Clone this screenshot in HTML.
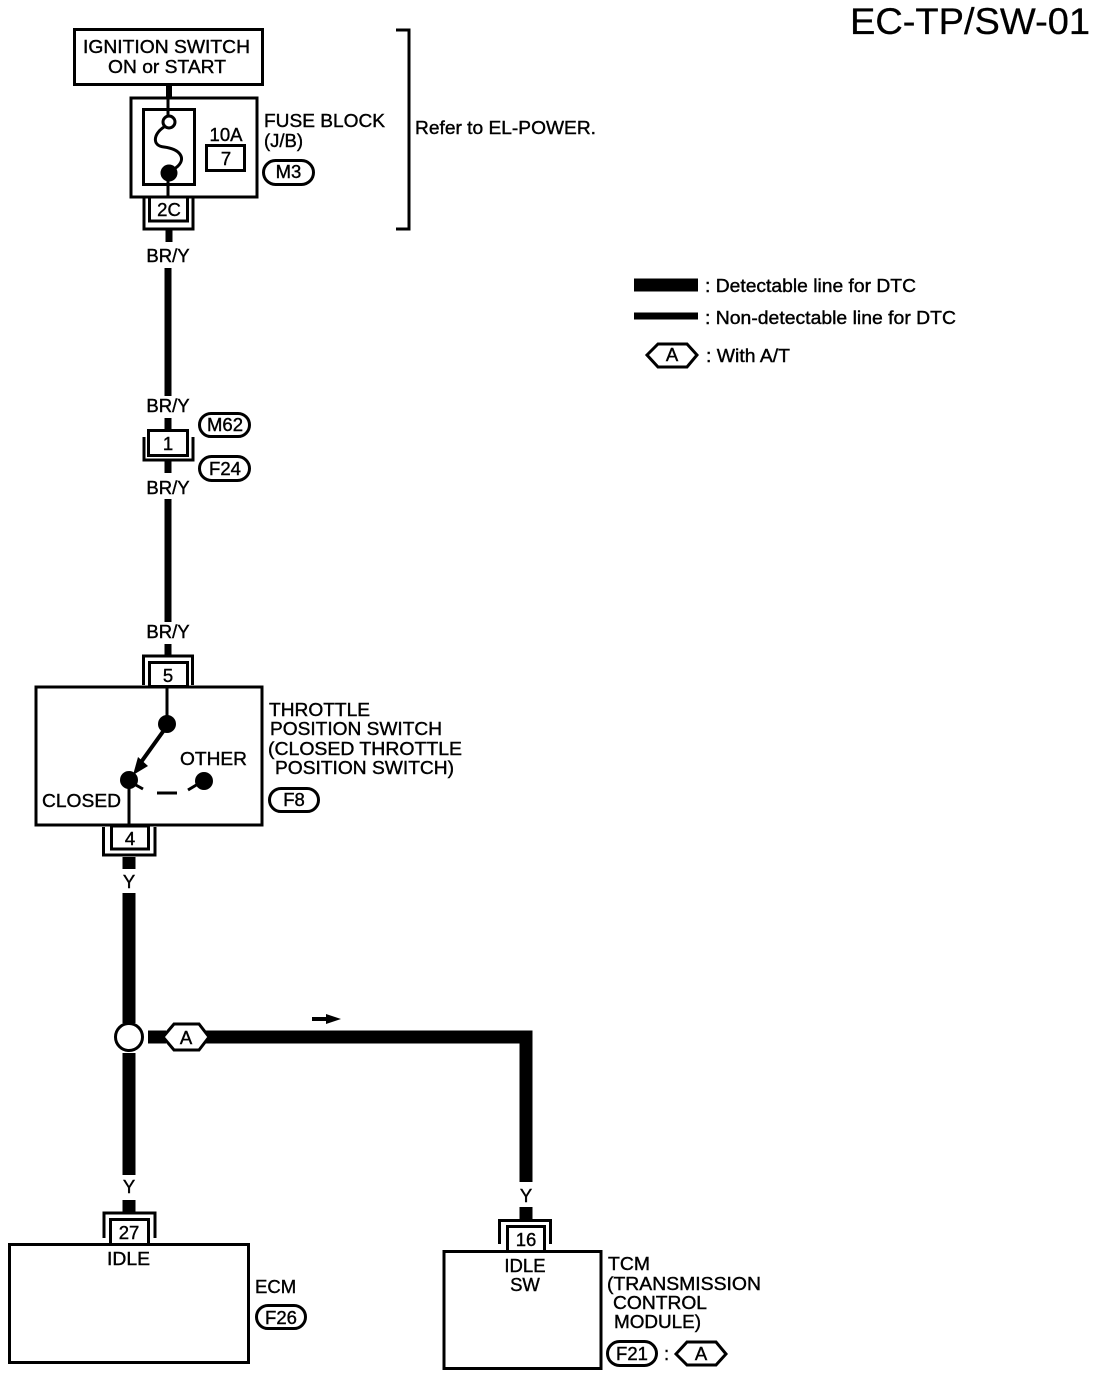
<!DOCTYPE html>
<html><head><meta charset="utf-8"><style>
html,body{margin:0;padding:0;background:#fff;width:1104px;height:1378px;overflow:hidden}
svg{display:block}
text{font-family:"Liberation Sans",sans-serif;font-size:18.5px;fill:#000;stroke:#000;stroke-width:.4}
.c{text-anchor:middle}
.b{fill:#fff;stroke:#000;stroke-width:3}
.n{fill:none;stroke:#000;stroke-width:3}
.w{fill:none;stroke:#000;stroke-width:7}
.t{fill:none;stroke:#000;stroke-width:13}
</style></head><body>
<svg width="1104" height="1378" viewBox="0 0 1104 1378" xmlns="http://www.w3.org/2000/svg">
<rect width="1104" height="1378" fill="#fff"/>
<text x="850" y="34" textLength="240" lengthAdjust="spacingAndGlyphs" style="font-size:37px;stroke-width:.3">EC-TP/SW-01</text>

<!-- top -->
<rect class="b" x="74.500" y="29.500" width="188" height="55"/>
<text x="83" y="53" textLength="167" lengthAdjust="spacingAndGlyphs">IGNITION SWITCH</text>
<text x="108" y="73" textLength="118" lengthAdjust="spacingAndGlyphs">ON or START</text>
<path d="M169 85V98" stroke="#000" stroke-width="6"/>
<rect class="b" x="131" y="98" width="126" height="99"/>
<rect class="b" x="143.500" y="109.500" width="51" height="75"/>
<path class="n" d="M168 97V117"/>
<path class="n" d="M164 127C153 134 152 146 164 147C180 149 186 158 178 166L172 171"/>
<circle cx="169" cy="122" r="6" fill="#fff" stroke="#000" stroke-width="3"/>
<circle cx="169" cy="173" r="8.500"/>
<path class="n" d="M168 178V198"/>
<text class="c" x="226" y="141">10A</text>
<rect class="b" x="206.500" y="145.500" width="38" height="25"/>
<text class="c" x="226" y="165">7</text>
<text x="264" y="127" textLength="121" lengthAdjust="spacingAndGlyphs">FUSE BLOCK</text>
<text x="264" y="147">(J/B)</text>
<rect class="b" x="263.500" y="160.500" width="50" height="24" rx="12"/>
<text class="c" x="288.500" y="178">M3</text>
<path class="n" d="M144 198V229H193V198"/>
<rect class="b" x="149.500" y="197" width="38" height="24"/>
<text class="c" x="169" y="216">2C</text>
<path d="M396 30H409V229H396" class="n"/>
<text x="415" y="134" textLength="181" lengthAdjust="spacingAndGlyphs">Refer to EL-POWER.</text>

<!-- legend -->
<path d="M634 285H698" stroke="#000" stroke-width="13"/>
<path d="M634 316H698" stroke="#000" stroke-width="7"/>
<text x="705" y="292" textLength="211" lengthAdjust="spacingAndGlyphs">: Detectable line for DTC</text>
<text x="705" y="324" textLength="251" lengthAdjust="spacingAndGlyphs">: Non-detectable line for DTC</text>
<path class="b" d="M647 355L658 344H687L697 355L687 367H658Z"/>
<text class="c" x="672" y="361">A</text>
<text x="706" y="362" textLength="84" lengthAdjust="spacingAndGlyphs">: With A/T</text>

<!-- BR/Y wire -->
<path class="w" d="M169 230V242"/>
<text class="c" x="168" y="262">BR/Y</text>
<path class="w" d="M168 268V396"/>
<text class="c" x="168" y="412">BR/Y</text>
<path class="w" d="M168 418V430M168 460V473"/>
<path class="n" d="M144 437V460H193V437"/>
<rect class="b" x="148.500" y="430.500" width="39" height="25"/>
<text class="c" x="168" y="450">1</text>
<rect class="b" x="199.500" y="413.500" width="50" height="23" rx="11.500"/>
<text class="c" x="225" y="431">M62</text>
<rect class="b" x="199.500" y="456.500" width="50" height="24" rx="12"/>
<text class="c" x="225" y="475">F24</text>
<text class="c" x="168" y="494">BR/Y</text>
<path class="w" d="M168 499V622"/>
<text class="c" x="168" y="638">BR/Y</text>
<path class="w" d="M168 644V656"/>

<!-- throttle switch -->
<path class="n" d="M143.500 685V656H192.500V685"/>
<rect class="b" x="149.500" y="662.500" width="38" height="24"/>
<text class="c" x="168" y="682">5</text>
<rect class="b" x="36" y="687" width="226" height="138"/>
<path class="n" d="M167 687V724M129 780V826"/>
<path d="M167 726L139 765" fill="none" stroke="#000" stroke-width="4"/>
<path d="M148 766L133 775L138 757Z"/>
<circle cx="167" cy="724" r="9"/>
<circle cx="129" cy="780" r="9"/>
<circle cx="204" cy="781" r="9"/>
<path class="n" d="M134 784L143 789M157 793H177M188 790L198 784"/>
<text x="180" y="765" textLength="67" lengthAdjust="spacingAndGlyphs">OTHER</text>
<text x="42" y="807" textLength="79" lengthAdjust="spacingAndGlyphs">CLOSED</text>
<text x="269" y="716" textLength="101" lengthAdjust="spacingAndGlyphs">THROTTLE</text>
<text x="270" y="735" textLength="172" lengthAdjust="spacingAndGlyphs">POSITION SWITCH</text>
<text x="268" y="755" textLength="194" lengthAdjust="spacingAndGlyphs">(CLOSED THROTTLE</text>
<text x="275" y="774" textLength="179" lengthAdjust="spacingAndGlyphs">POSITION SWITCH)</text>
<rect class="b" x="269.500" y="788.500" width="49" height="23" rx="11.500"/>
<text class="c" x="294" y="806">F8</text>
<path class="n" d="M103.500 827V855H155V827"/>
<rect class="b" x="111.500" y="826" width="37" height="23"/>
<text class="c" x="130" y="845">4</text>

<!-- Y wires -->
<path class="t" d="M129 857V869"/>
<text class="c" x="129" y="888">Y</text>
<path class="t" d="M129 893V1023M129 1053V1175"/>
<circle cx="129" cy="1037" r="13.500" fill="#fff" stroke="#000" stroke-width="3"/>
<path class="t" d="M148 1037H166"/>
<path class="t" d="M205 1037H526V1182"/>
<path class="b" d="M163 1037L174 1024H199L209 1037L199 1050H174Z"/>
<text class="c" x="186" y="1044">A</text>
<path d="M312 1017H326V1014L341 1019L326 1024V1021H312Z"/>
<text class="c" x="129" y="1193">Y</text>
<path class="t" d="M129 1200V1213"/>
<path class="n" d="M104 1238V1213H155V1238"/>
<rect class="b" x="110.500" y="1219.500" width="38" height="25"/>
<text class="c" x="129" y="1239">27</text>
<rect class="b" x="9.500" y="1244.500" width="239" height="118"/>
<text x="107" y="1265" textLength="43" lengthAdjust="spacingAndGlyphs">IDLE</text>
<text x="255" y="1293">ECM</text>
<rect class="b" x="256.500" y="1305.500" width="49" height="23" rx="11.500"/>
<text class="c" x="281" y="1324">F26</text>

<text class="c" x="526" y="1202">Y</text>
<path class="t" d="M526 1207V1220"/>
<path class="n" d="M499.500 1244V1220.500H550.500V1244"/>
<rect class="b" x="507.500" y="1226.500" width="37" height="25"/>
<text class="c" x="526" y="1246">16</text>
<rect class="b" x="444" y="1251.500" width="157" height="117"/>
<text class="c" x="525" y="1272">IDLE</text>
<text class="c" x="525" y="1291">SW</text>
<text x="608" y="1270" textLength="42" lengthAdjust="spacingAndGlyphs">TCM</text>
<text x="607" y="1290" textLength="154" lengthAdjust="spacingAndGlyphs">(TRANSMISSION</text>
<text x="613" y="1309" textLength="94" lengthAdjust="spacingAndGlyphs">CONTROL</text>
<text x="614" y="1328" textLength="87" lengthAdjust="spacingAndGlyphs">MODULE)</text>
<rect class="b" x="607.500" y="1341.500" width="49" height="24" rx="12"/>
<text class="c" x="632" y="1360">F21</text>
<text x="664" y="1360">:</text>
<path class="b" d="M676 1354L687 1342H716L726 1354L716 1365H687Z"/>
<text class="c" x="701" y="1360">A</text>
</svg>
</body></html>
